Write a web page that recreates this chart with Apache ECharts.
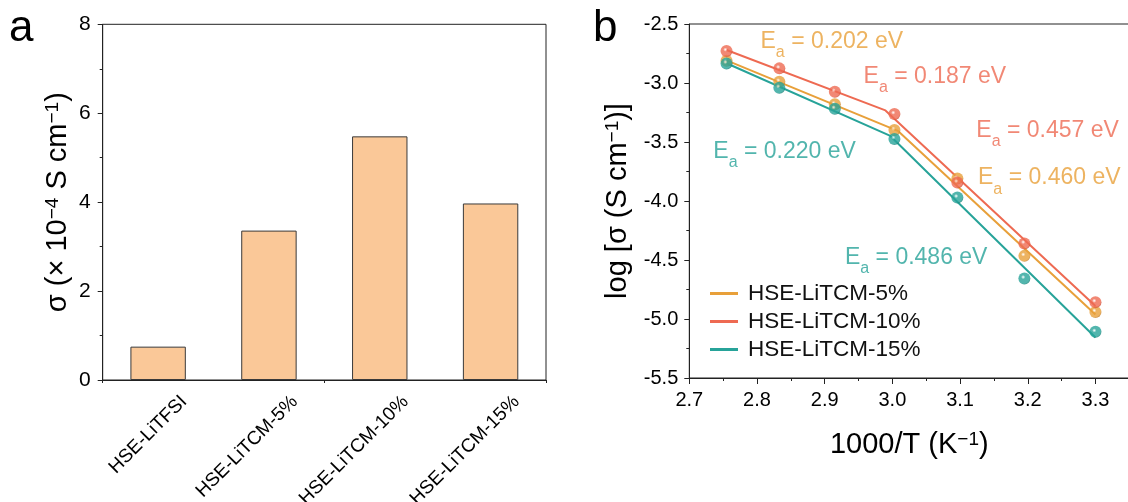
<!DOCTYPE html>
<html>
<head>
<meta charset="utf-8">
<script src="https://cdn.jsdelivr.net/npm/echarts@6/dist/echarts.min.js"></script>
<style>
  html, body { margin: 0; padding: 0; background: #fff; }
  #chart { width: 1128px; height: 502px; }
</style>
</head>
<body>
<div id="chart"></div>
<script>
// (a) room-temperature ionic conductivity, in 1e-4 S/cm
const electrolytes = ['HSE-LiTFSI', 'HSE-LiTCM-5%', 'HSE-LiTCM-10%', 'HSE-LiTCM-15%'];
const conductivity = [0.75, 3.36, 5.48, 3.97];
const conductivityTicks = [0, 2, 4, 6, 8];

// (b) Arrhenius plot: log conductivity versus 1000/T
const inverseT = [2.755, 2.833, 2.915, 3.003, 3.096, 3.195, 3.300];
const logSigma5 = [-2.812, -2.989, -3.181, -3.399, -3.809, -4.465, -4.940];
const logSigma10 = [-2.729, -2.876, -3.074, -3.263, -3.843, -4.360, -4.857];
const logSigma15 = [-2.834, -3.040, -3.218, -3.475, -3.970, -4.657, -5.109];
const seriesNames = ['HSE-LiTCM-5%', 'HSE-LiTCM-10%', 'HSE-LiTCM-15%'];

// activation energies (eV): high-temperature region, low-temperature region
const ea5 = ['0.202', '0.460'];
const ea10 = ['0.187', '0.457'];
const ea15 = ['0.220', '0.486'];

const FONT = 'Liberation Sans, Arial, Helvetica, sans-serif';
const colors = ['#E8A03A', '#EE6A52', '#27A399'];
const shades = ['#C9832A', '#D2513B', '#1C857C'];
const axisColor = '#222';

// where each E_a label starts (data coordinates of its top-left corner)
const eaLabelAt = {
  ea5: [[2.8052, -2.548], [3.1265, -3.706]],
  ea10: [[2.9574, -2.845], [3.1240, -3.303]],
  ea15: [[2.7355, -3.481], [2.9299, -4.379]]
};

// least-squares straight line through the given points
function linearFit(xs, ys) {
  const n = xs.length;
  const mx = xs.reduce((s, v) => s + v, 0) / n;
  const my = ys.reduce((s, v) => s + v, 0) / n;
  let sxy = 0, sxx = 0;
  for (let i = 0; i < n; i++) {
    sxy += (xs[i] - mx) * (ys[i] - my);
    sxx += (xs[i] - mx) * (xs[i] - mx);
  }
  const slope = sxy / sxx;
  return { slope, icpt: my - slope * mx };
}

// two Arrhenius regimes (first four and last four points) joined where the fits cross
function twoRegimeFit(ys) {
  const hi = linearFit(inverseT.slice(0, 4), ys.slice(0, 4));
  const lo = linearFit(inverseT.slice(3), ys.slice(3));
  let xk = (lo.icpt - hi.icpt) / (hi.slope - lo.slope);
  if (!(xk > inverseT[2] && xk < inverseT[4])) xk = inverseT[3];
  const x0 = inverseT[0], x1 = inverseT[inverseT.length - 1];
  return [
    [x0, hi.slope * x0 + hi.icpt],
    [xk, hi.slope * xk + hi.icpt],
    [x1, lo.slope * x1 + lo.icpt]
  ];
}

function pairs(ys) { return inverseT.map((x, i) => [x, ys[i]]); }

// shaded ball marker
function sphere(c, dark) {
  return {
    type: 'radial', x: 0.4, y: 0.38, r: 0.62,
    colorStops: [
      { offset: 0, color: 'rgba(255,255,255,0.85)' },
      { offset: 0.28, color: c },
      { offset: 0.85, color: c },
      { offset: 1, color: dark }
    ]
  };
}

const eaRich = {
  e: { fontSize: 23, lineHeight: 30, verticalAlign: 'top', fontFamily: FONT },
  s: { fontSize: 16, lineHeight: 16, verticalAlign: 'top', padding: [15, 0, 0, 0], fontFamily: FONT }
};

function eaSeries(values, spots, color) {
  return {
    type: 'scatter', xAxisIndex: 2, yAxisIndex: 1, silent: true, z: 5,
    symbolSize: 1, itemStyle: { color: 'transparent' },
    data: spots.map((p, i) => ({ value: p, ea: values[i] })),
    label: {
      show: true, position: 'inside', align: 'left', verticalAlign: 'top',
      color: color,
      formatter: (p) => '{e|E}{s|a}{e| = ' + p.data.ea + ' eV}',
      rich: {
        e: Object.assign({ color: color }, eaRich.e),
        s: Object.assign({ color: color }, eaRich.s)
      }
    }
  };
}

const titleRich = {
  t: { fontSize: 29, lineHeight: 34, verticalAlign: 'top', fontFamily: FONT, color: '#000' },
  p: { fontSize: 19, lineHeight: 19, verticalAlign: 'top', fontFamily: FONT, color: '#000' }
};

const chart = echarts.init(document.getElementById('chart'), null, { renderer: 'canvas' });

const logSets = [logSigma5, logSigma10, logSigma15];

const option = {
  animation: false,
  backgroundColor: '#fff',
  textStyle: { fontFamily: FONT },
  graphic: [
    { type: 'text', left: 9, top: 7, style: { text: 'a', font: '44px ' + FONT, fill: '#000' } },
    { type: 'text', left: 593, top: 7, style: { text: 'b', font: '44px ' + FONT, fill: '#000' } }
  ],
  grid: [
    { left: 102.7, top: 24.3, width: 443.3, height: 355.7, show: true, borderColor: axisColor, borderWidth: 1,
      containLabel: false, outerBoundsMode: 'none' },
    { left: 689.3, top: 24, width: 440, height: 354, show: true, borderColor: axisColor, borderWidth: 1,
      containLabel: false, outerBoundsMode: 'none' }
  ],
  legend: {
    data: seriesNames,
    orient: 'vertical',
    left: 705, top: 277,
    itemGap: 5,
    itemWidth: 28, itemHeight: 3,
    icon: 'rect',
    selectedMode: false,
    textStyle: { fontSize: 22.5, color: '#111', fontFamily: FONT, padding: [0, 0, 0, 5] }
  },
  xAxis: [
    {
      type: 'category', gridIndex: 0, data: electrolytes, position: 'bottom',
      axisLine: { lineStyle: { color: axisColor, width: 1 } },
      axisTick: { alignWithLabel: true, length: 6, lineStyle: { color: axisColor } },
      axisLabel: {
        interval: 0, rotate: 45, fontSize: 19, lineHeight: 19, color: '#000',
        align: 'right', verticalAlign: 'top', padding: [27, 0, 0, 0], margin: -7
      },
      splitLine: { show: false }
    },
    {
      // short ticks on the category boundaries
      type: 'category', gridIndex: 0, data: electrolytes, position: 'bottom',
      axisLine: { show: false },
      axisTick: { show: true, length: 3, lineStyle: { color: axisColor } },
      axisLabel: { show: false },
      splitLine: { show: false }
    },
    {
      type: 'value', gridIndex: 1, min: 2.7, max: 3.35, interval: 0.1,
      name: '{t|1000/T (K}{p|−1}{t|)}',
      nameLocation: 'middle', nameGap: 52.5,
      nameTextStyle: { rich: titleRich },
      axisLine: { lineStyle: { color: axisColor, width: 1 } },
      axisTick: { show: true, length: 6, lineStyle: { color: axisColor } },
      minorTick: { show: true, splitNumber: 2, length: 3, lineStyle: { color: axisColor } },
      axisLabel: {
        fontSize: 20, color: '#000', margin: 12,
        formatter: (v) => (v > 3.31 ? '' : v.toFixed(1))
      },
      splitLine: { show: false }
    }
  ],
  yAxis: [
    {
      type: 'value', gridIndex: 0,
      min: conductivityTicks[0], max: conductivityTicks[conductivityTicks.length - 1],
      interval: conductivityTicks[1] - conductivityTicks[0],
      name: '{t|σ (× 10}{p|−4}{t| S cm}{p|−1}{t|)}',
      nameLocation: 'middle', nameGap: 25,
      nameTextStyle: { rich: titleRich },
      axisLine: { show: true, lineStyle: { color: axisColor, width: 1 } },
      axisTick: { show: true, length: 5, lineStyle: { color: axisColor } },
      minorTick: { show: true, splitNumber: 2, length: 3, lineStyle: { color: axisColor } },
      axisLabel: { fontSize: 21, color: '#000', margin: 12 },
      splitLine: { show: false }
    },
    {
      type: 'value', gridIndex: 1, min: -5.5, max: -2.5, interval: 0.5,
      name: '{t|log [σ (S cm}{p|−1}{t|)]}',
      nameLocation: 'middle', nameGap: 51.6,
      nameTextStyle: { rich: titleRich },
      axisLine: { show: true, lineStyle: { color: axisColor, width: 1 } },
      axisTick: { show: true, length: 5, lineStyle: { color: axisColor } },
      minorTick: { show: true, splitNumber: 2, length: 3, lineStyle: { color: axisColor } },
      axisLabel: { fontSize: 20, color: '#000', margin: 11, formatter: (v) => v.toFixed(1) },
      splitLine: { show: false }
    }
  ],
  series: [
    {
      type: 'bar', xAxisIndex: 0, yAxisIndex: 0,
      data: conductivity, barWidth: '50%',
      itemStyle: { color: '#FAC898', borderColor: '#3a3a3a', borderWidth: 1 }
    }
  ]
};

// fit lines (these carry the legend entries)
logSets.forEach((ys, i) => {
  option.series.push({
    name: seriesNames[i], type: 'line', xAxisIndex: 2, yAxisIndex: 1,
    data: twoRegimeFit(ys), symbol: 'none', z: 2,
    lineStyle: { color: colors[i], width: 2 },
    itemStyle: { color: colors[i] }
  });
});

// measured points
logSets.forEach((ys, i) => {
  option.series.push({
    name: seriesNames[i] + ' data', type: 'scatter', xAxisIndex: 2, yAxisIndex: 1,
    data: pairs(ys), symbolSize: 12, z: 3,
    itemStyle: { color: sphere(colors[i], shades[i]) }
  });
});

option.series.push(eaSeries(ea5, eaLabelAt.ea5, colors[0]));
option.series.push(eaSeries(ea10, eaLabelAt.ea10, colors[1]));
option.series.push(eaSeries(ea15, eaLabelAt.ea15, colors[2]));

chart.setOption(option);
</script>
</body>
</html>
